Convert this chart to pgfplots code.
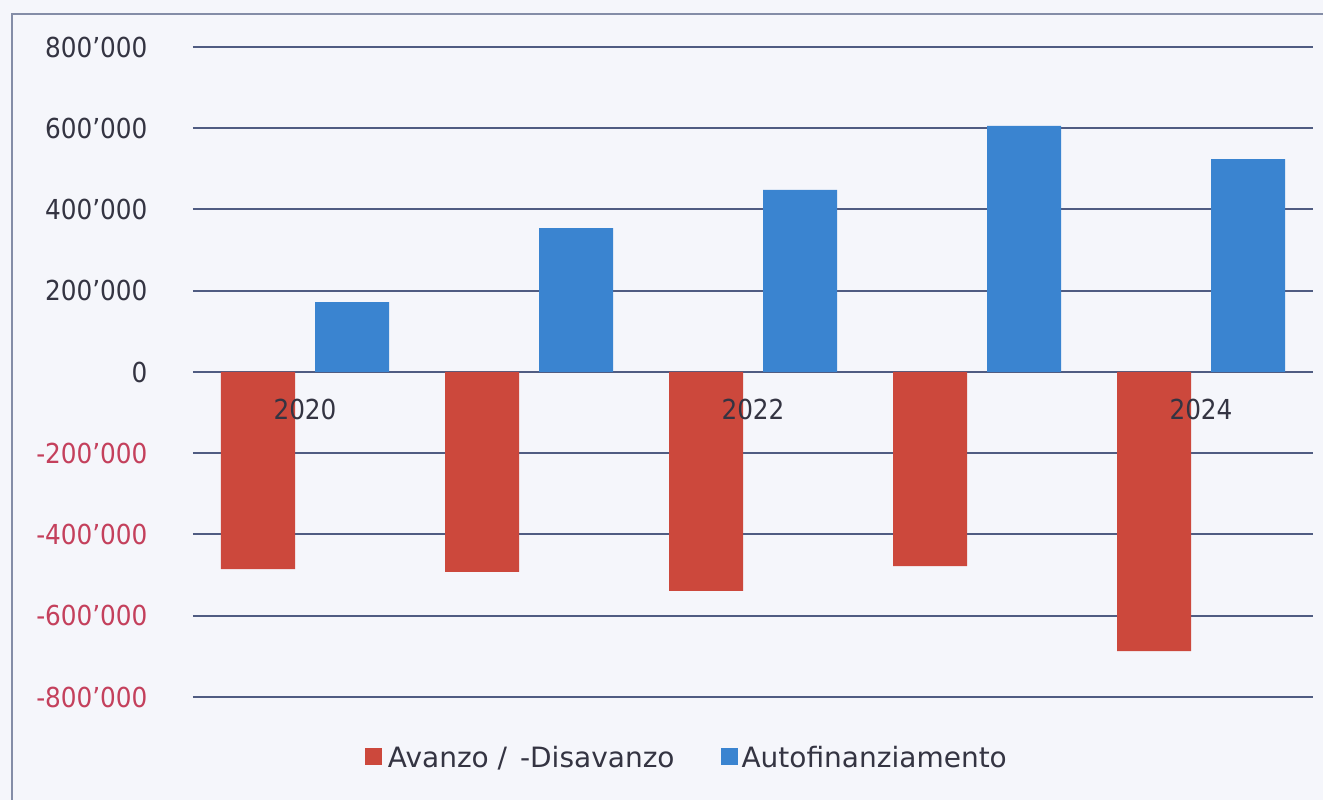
\documentclass[border=0pt]{standalone}
\usepackage{pgfplots}
\pgfplotsset{compat=1.18}
\usepackage{fontspec}
\setmainfont{DejaVu Sans Condensed}
\newfontfamily\legfont{DejaVu Sans}
\definecolor{barred}{RGB}{204,72,60}
\definecolor{barblue}{RGB}{58,132,208}
\definecolor{negred}{RGB}{196,64,92}
\definecolor{txt}{RGB}{52,52,66}
\definecolor{gridc}{RGB}{80,92,130}
\definecolor{bg}{RGB}{245,246,251}
\begin{document}
\begin{tikzpicture}
\useasboundingbox (0,0) rectangle (1323pt,800pt);
\fill[bg] (0,0) rectangle (1323pt,800pt);
\draw[line width=2pt, color=gridc!70] (12pt,0pt) -- (12pt,786pt) -- (1323pt,786pt);
\begin{axis}[
  at={(193pt,103pt)}, anchor=south west,
  scale only axis, width=1120pt, height=650pt,
  xmin=-0.5, xmax=4.5, ymin=-800000, ymax=800000,
  scaled y ticks=false,
  ybar=20pt, bar width=74pt,
  axis x line*=middle, axis y line*=left,
  axis line style={draw=none},
  major tick length=0pt,
  ytick={-800000,-600000,-400000,-200000,0,200000,400000,600000,800000},
  yticklabels={\textcolor{negred}{-800'000},\textcolor{negred}{-600'000},\textcolor{negred}{-400'000},\textcolor{negred}{-200'000},0,200'000,400'000,600'000,800'000},
  xtick={0,2,4}, xticklabels={},
  ymajorgrids, grid style={color=gridc, line width=2pt},
  tick label style={text=txt, font=\fontsize{27.5}{32}\selectfont},
  yticklabel style={xshift=-42pt},
  legend style={at={(0.441,-0.094)}, anchor=center, draw=none, fill=none,
    legend columns=2, font=\legfont\fontsize{28}{32}\selectfont, text=txt,
    /tikz/every even column/.append style={column sep=44pt}},
  legend image code/.code={\fill[#1] (0pt,-7pt) rectangle (17pt,10pt);},
]
\addplot[fill=barred, draw=none] coordinates {(0,-485000) (1,-492000) (2,-539000) (3,-478000) (4,-687000)};
\addlegendentry{\hspace{4pt}Avanzo /\hspace{4pt} -Disavanzo}
\addplot[fill=barblue, draw=none] coordinates {(0,172000) (1,354000) (2,448000) (3,606000) (4,524000)};
\addlegendentry{\hspace{2pt}Autofinanziamento}
\foreach \xx/\lab in {0/2020,2/2022,4/2024}{
  \edef\tmp{\noexpand\node[text=txt, font=\noexpand\fontsize{27.5}{32}\noexpand\selectfont, anchor=center] at (axis cs:\xx,-93000) {\lab};}
  \tmp
}
\end{axis}
\end{tikzpicture}
\end{document}
